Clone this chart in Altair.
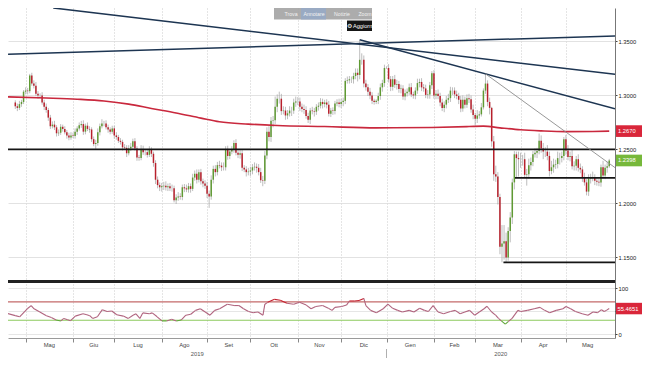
import altair as alt
import pandas as pd

FONT = "Liberation Sans Narrow, Liberation Sans, Arial"
FS = 5.8

# ---------------- daily candles (weekdays), closes + wick sizes in pips ----------------
FIRST_OPEN = 1.2935

C_APR19 = [1.2900, 1.2885, 1.2920, 1.2940, 1.3035]
U_APR19 = [20, 25, 30, 20, 15]
D_APR19 = [25, 30, 20, 25, 20]

C_MAY19 = [1.3045, 1.3040, 1.3185, 1.3110, 1.3090, 1.3015, 1.3000, 1.3000, 1.2935, 1.2895,
           1.2865, 1.2795, 1.2715, 1.2730, 1.2705, 1.2650, 1.2655, 1.2710, 1.2690, 1.2660,
           1.2630, 1.2610, 1.2630]
U_MAY19 = [30, 25, 15, 25, 30, 35, 25, 20, 30, 25, 30, 20, 25, 30, 35, 20, 30, 25, 20, 25, 20, 25, 30]
D_MAY19 = [25, 30, 20, 20, 25, 20, 30, 25, 20, 30, 25, 30, 25, 20, 25, 30, 25, 20, 25, 20, 30, 25, 20]

C_JUN19 = [1.2625, 1.2665, 1.2695, 1.2725, 1.2735, 1.2665, 1.2720, 1.2690, 1.2685, 1.2595,
           1.2550, 1.2560, 1.2660, 1.2715, 1.2740, 1.2740, 1.2705, 1.2685, 1.2665, 1.2695]
U_JUN19 = [25, 30, 20, 25, 30, 35, 20, 30, 25, 20, 25, 30, 35, 25, 40, 25, 30, 25, 20, 25]
D_JUN19 = [20, 25, 30, 20, 25, 30, 25, 20, 30, 25, 20, 45, 25, 30, 20, 25, 20, 30, 25, 20]

C_JUL19 = [1.2630, 1.2615, 1.2580, 1.2570, 1.2520, 1.2515, 1.2465, 1.2510, 1.2525, 1.2575,
           1.2510, 1.2425, 1.2420, 1.2500, 1.2475, 1.2475, 1.2450, 1.2495, 1.2460, 1.2375,
           1.2220, 1.2170, 1.2150]
U_JUL19 = [25, 30, 20, 25, 20, 30, 25, 30, 35, 25, 30, 20, 25, 40, 35, 25, 30, 35, 25, 20, 25, 30, 25]
D_JUL19 = [30, 25, 20, 25, 30, 20, 35, 20, 25, 30, 20, 30, 25, 20, 25, 30, 25, 20, 30, 35, 40, 30, 35]

C_AUG19 = [1.2160, 1.2165, 1.2150, 1.2160, 1.2140, 1.2140, 1.2030, 1.2055, 1.2065, 1.2060,
           1.2150, 1.2140, 1.2130, 1.2160, 1.2135, 1.2240, 1.2275, 1.2220, 1.2290, 1.2205,
           1.2185, 1.2165]
U_AUG19 = [30, 35, 40, 25, 30, 35, 25, 30, 40, 30, 25, 30, 35, 30, 25, 35, 30, 40, 25, 30, 25, 30]
D_AUG19 = [40, 35, 30, 35, 25, 30, 20, 35, 30, 25, 30, 35, 25, 30, 35, 20, 30, 35, 25, 30, 35, 30]

C_SEP19 = [1.2090, 1.2065, 1.2220, 1.2320, 1.2290, 1.2355, 1.2350, 1.2335, 1.2335, 1.2505,
           1.2440, 1.2480, 1.2500, 1.2560, 1.2470, 1.2450, 1.2465, 1.2330, 1.2315, 1.2290,
           1.2295]
U_SEP19 = [35, 30, 40, 30, 35, 30, 40, 30, 45, 25, 30, 25, 30, 25, 35, 30, 35, 30, 25, 30, 35]
D_SEP19 = [40, 106, 30, 35, 40, 30, 25, 35, 30, 30, 35, 30, 25, 30, 25, 30, 35, 30, 25, 40, 30]

C_OCT19 = [1.2305, 1.2335, 1.2340, 1.2330, 1.2290, 1.2215, 1.2210, 1.2445, 1.2665, 1.2615,
           1.2765, 1.2770, 1.2895, 1.2970, 1.2970, 1.2855, 1.2860, 1.2815, 1.2835, 1.2860,
           1.2860, 1.2935, 1.2945]
U_OCT19 = [35, 30, 40, 30, 35, 40, 40, 40, 40, 50, 35, 40, 95, 40, 65, 45, 40, 35, 30, 40, 35, 35, 45]
D_OCT19 = [40, 35, 30, 45, 30, 25, 50, 30, 35, 40, 45, 60, 35, 50, 45, 35, 30, 40, 35, 30, 50, 30, 40]

C_NOV19 = [1.2945, 1.2895, 1.2875, 1.2865, 1.2810, 1.2775, 1.2860, 1.2855, 1.2850, 1.2895,
           1.2905, 1.2940, 1.2920, 1.2935, 1.2915, 1.2830, 1.2860, 1.2855, 1.2925, 1.2935,
           1.2920]
U_NOV19 = [40, 35, 30, 40, 35, 30, 25, 35, 30, 25, 30, 35, 30, 25, 30, 35, 25, 30, 25, 30, 35]
D_NOV19 = [35, 40, 30, 35, 25, 30, 40, 30, 45, 30, 35, 25, 40, 30, 35, 25, 30, 35, 30, 25, 30]

C_DEC19 = [1.2940, 1.2950, 1.3135, 1.3140, 1.3150, 1.3150, 1.3180, 1.3210, 1.3190, 1.3330,
           1.3330, 1.3110, 1.3075, 1.3035, 1.3000, 1.2950, 1.2940, 1.2950, 1.2995, 1.3075,
           1.3115, 1.3255]
U_DEC19 = [30, 30, 25, 35, 30, 25, 30, 40, 40, 185, 60, 40, 35, 30, 35, 30, 20, 15, 30, 35, 30, 30]
D_DEC19 = [35, 40, 30, 25, 30, 35, 40, 30, 60, 40, 45, 35, 30, 40, 35, 30, 25, 20, 30, 35, 40, 35]

C_JAN20 = [1.3255, 1.3150, 1.3080, 1.3150, 1.3100, 1.3105, 1.3060, 1.3065, 1.2990, 1.3020,
           1.3035, 1.3075, 1.3010, 1.3000, 1.3045, 1.3115, 1.3125, 1.3075, 1.3065, 1.3005,
           1.3010, 1.3095, 1.3205]
U_JAN20 = [15, 35, 30, 30, 40, 40, 30, 35, 30, 35, 30, 35, 40, 25, 30, 40, 30, 35, 30, 35, 40, 30, 20]
D_JAN20 = [10, 30, 40, 35, 30, 45, 35, 40, 30, 35, 30, 30, 25, 30, 35, 30, 40, 35, 30, 30, 35, 40, 35]

C_FEB20 = [1.3000, 1.3015, 1.2995, 1.2935, 1.2885, 1.2915, 1.2960, 1.2975, 1.3045, 1.3045,
           1.3010, 1.2995, 1.2960, 1.2880, 1.2960, 1.2915, 1.2975, 1.2965, 1.2870, 1.2820]
U_FEB20 = [30, 35, 40, 30, 35, 30, 35, 40, 35, 30, 30, 35, 30, 35, 40, 30, 35, 40, 35, 45]
D_FEB20 = [30, 35, 30, 35, 30, 40, 35, 30, 35, 40, 35, 30, 40, 35, 30, 35, 30, 35, 30, 40]

C_MAR20 = [1.2785, 1.2815, 1.2825, 1.2890, 1.3045, 1.3110, 1.2940, 1.2885, 1.2575, 1.2270,
           1.2250, 1.2060, 1.1600, 1.1630, 1.1650, 1.1500, 1.1745, 1.1870, 1.2195, 1.2455,
           1.2420, 1.2410]
U_MAR20 = [20, 50, 30, 40, 20, 90, 30, 40, 10, 50, 80, 40, 30, 170, 150, 80, 35, 50, 35, 30, 25, 60]
D_MAR20 = [60, 40, 30, 20, 20, 30, 40, 60, 50, 60, 50, 70, 70, 145, 150, 45, 30, 105, 60, 65, 180, 160]

C_APR20 = [1.2410, 1.2410, 1.2265, 1.2270, 1.2355, 1.2385, 1.2455, 1.2470, 1.2485, 1.2580,
           1.2510, 1.2480, 1.2480, 1.2440, 1.2300, 1.2335, 1.2360, 1.2365, 1.2420, 1.2420,
           1.2440, 1.2595]
U_APR20 = [60, 40, 60, 50, 60, 40, 30, 40, 30, 68, 50, 50, 40, 60, 40, 60, 55, 40, 60, 50, 40, 20]
D_APR20 = [80, 60, 30, 100, 40, 50, 40, 30, 50, 30, 40, 70, 50, 40, 50, 30, 50, 40, 40, 60, 40, 40]

C_MAY20 = [1.2490, 1.2430, 1.2440, 1.2345, 1.2350, 1.2410, 1.2330, 1.2315, 1.2245, 1.2195,
           1.2110, 1.2230, 1.2245, 1.2235, 1.2210, 1.2200, 1.2195, 1.2335, 1.2260, 1.2330,
           1.2345]
U_MAY20 = [40, 50, 40, 60, 40, 30, 45, 40, 30, 40, 30, 40, 30, 50, 35, 30, 30, 25, 60, 30, 40]
D_MAY20 = [40, 30, 40, 30, 40, 45, 35, 35, 45, 30, 35, 40, 45, 30, 40, 35, 35, 40, 30, 35, 45]

C_JUN20 = [1.2398]
U_JUN20 = [15]
D_JUN20 = [15]

BLOCKS = [(C_APR19, U_APR19, D_APR19), (C_MAY19, U_MAY19, D_MAY19), (C_JUN19, U_JUN19, D_JUN19),
          (C_JUL19, U_JUL19, D_JUL19), (C_AUG19, U_AUG19, D_AUG19), (C_SEP19, U_SEP19, D_SEP19),
          (C_OCT19, U_OCT19, D_OCT19), (C_NOV19, U_NOV19, D_NOV19), (C_DEC19, U_DEC19, D_DEC19),
          (C_JAN20, U_JAN20, D_JAN20), (C_FEB20, U_FEB20, D_FEB20), (C_MAR20, U_MAR20, D_MAR20),
          (C_APR20, U_APR20, D_APR20), (C_MAY20, U_MAY20, D_MAY20), (C_JUN20, U_JUN20, D_JUN20)]

# 200-day moving average (candle index, price)
MA_I = [-9, 10, 25, 38, 50, 61, 73, 85, 94, 108, 122, 145, 170, 197, 215, 222, 230, 240, 250, 262, 275, 283]
MA_V = [1.2987, 1.2976, 1.2965, 1.2949, 1.2920, 1.2880, 1.2838, 1.2790, 1.2756, 1.2735, 1.2722,
        1.2712, 1.2700, 1.2704, 1.2712, 1.2716, 1.2700, 1.2682, 1.2672, 1.2665, 1.2667, 1.2670]

# RSI (candle index, value)
RSI_I = [-9, -5, -2.9, 0.8, 2.7, 4.1, 6.9, 10.1, 12.5, 14.8, 17.1,
         18.5, 20.4, 21.8, 24.1, 27.8, 29.7, 31.1, 32.5, 34.8, 37.2,
         39.5, 41.8, 44.2, 47.4, 49.8, 52.1, 53.5, 55.4, 56.8, 60,
         61.4, 63.8, 66.1, 68.4, 70.8, 73.1, 75.4, 77.7, 80.1, 82.4,
         84.7, 87.1, 89.4, 91.7, 94.1, 97.8, 101.1, 103.4, 105.7, 108.1,
         110.4, 112.7, 115.1, 116, 117.4, 120.7, 123.5, 126.7, 130, 132.8,
         136.1, 138.4, 140.7, 144, 146.8, 148.6, 150, 153.3, 155.6, 157,
         159.4, 161.7, 164, 165, 167.3, 170.1, 173.4, 175.7, 178, 180.4,
         182.7, 186, 188.3, 191.1, 193.4, 195.3, 197.6, 200, 202.7, 206,
         208.3, 210.7, 213, 215.3, 217.7, 220, 222.3, 223.7, 226, 227.9,
         229.3, 230.7, 232.6, 234, 235.9, 238.7, 240.1, 243.3, 246.6, 249.4,
         251.7, 254.1, 257.3, 260.6, 262, 264.3, 266.6, 269.9, 272.7, 275.1,
         277.4, 279.2, 280.6, 281.8, 283]
RSI_V = [45, 40, 37.5, 55, 62, 55, 48, 40, 36, 30.5, 28.5,
         34, 31, 29, 39, 44, 42, 40, 34, 37.5, 53,
         49, 50, 42, 39, 34, 41, 44, 34, 46, 44,
         46, 37.5, 28.5, 28.5, 32, 28.5, 30.5, 41, 43, 51.5,
         55, 48, 41, 51.5, 55, 65, 62, 62, 55, 49,
         46.5, 48, 41, 65, 69, 75.5, 73.5, 67, 65, 69,
         63, 55, 60, 62, 56, 51.5, 58, 60, 63, 72,
         72, 73, 77.5, 62, 51.5, 46.5, 55, 65, 56, 51.5,
         48, 51.5, 48, 56, 51.5, 49, 62, 48, 44, 49,
         51.5, 44, 48, 51.5, 41, 48, 55, 60.5, 48, 41,
         34, 28.5, 21.5, 27, 34, 51.5, 49, 51.5, 55, 58,
         51.5, 46.5, 51.5, 55, 60, 55, 49, 44, 41, 48,
         46.5, 53, 49, 52, 55.4651]

# drawn studies: trend lines (index, price) and horizontal levels
TREND_I0 = [-8.5, 13.4, 162, 223]
TREND_P0 = [1.3381, 1.3810, 1.3515, 1.3200]
TREND_I1 = [285.8, 285.8, 285.8, 285.8]
TREND_P1 = [1.3551, 1.3196, 1.2876, 1.2332]
TREND_KIND = ["dark", "dark", "dark", "thin"]

HL_P = [1.2500, 1.2237, 1.1455]
HL_I0 = [-8.6, 237.3, 231.7]
HL_I1 = [285.8, 285.8, 285.8]

MONTH_STARTS = [0, 23, 43, 66, 88, 109, 132, 153, 175, 198, 218, 240, 262, 283]
MONTH_LABELS = ["Mag", "Giu", "Lug", "Ago", "Set", "Ott", "Nov", "Dic", "Gen", "Feb", "Mar", "Apr", "Mag"]
YEAR_LABELS = ["2019", "2020"]
YEAR_START = 175
PRICE_TICKS = [1.15, 1.20, 1.25, 1.30, 1.35]
LAST_PRICE = 1.2398
LAST_MA = 1.2670
LAST_RSI = 55.4651
TOOLBAR = ["Trova", "Annotare", "Notizie", "Zoom"]

# ---------------- build tables ----------------
closes, ups, dns = [], [], []
for c, u, d in BLOCKS:
    closes += c
    ups += u
    dns += d
idx = list(range(-5, -5 + len(closes)))
opens = [FIRST_OPEN] + closes[:-1]
highs = [max(o, c) + u / 10000 for o, c, u in zip(opens, closes, ups)]
lows = [min(o, c) - d / 10000 for o, c, d in zip(opens, closes, dns)]
candles = pd.DataFrame(dict(i=idx, o=opens, c=closes, h=highs, l=lows))
candles["x0"] = candles["i"] - 0.36
candles["x1"] = candles["i"] + 0.36

ma = pd.DataFrame(dict(i=MA_I, p=MA_V))
trend = pd.DataFrame(dict(i=TREND_I0, p=TREND_P0, i2=TREND_I1, p2=TREND_P1, k=TREND_KIND))
hl = pd.DataFrame(dict(i=HL_I0, i2=HL_I1, p=HL_P))
sep = pd.DataFrame(dict(p=[1.1278]))

GREEN = "#5f9a33"
RED = "#b8202c"
MA_RED = "#c9283d"
NAVY = "#1d3552"

tags = pd.DataFrame(dict(p=[LAST_MA, LAST_PRICE], txt=[f"{LAST_MA:.4f}", f"{LAST_PRICE:.4f}"],
                         col=["#d9263a", "#76b83a"]))
tags["lo"] = tags["p"] - 0.0054
tags["hi"] = tags["p"] + 0.0054

seg = pd.DataFrame(dict(i=RSI_I[:-1], v=RSI_V[:-1], i2=RSI_I[1:], v2=RSI_V[1:]))
def seg_col(a, b):
    m = (a + b) / 2
    if m > 70:
        return "#c4202e"
    if m < 30:
        return "#5fa638"
    return "#b0647e"
seg["col"] = [seg_col(a, b) for a, b in zip(seg["v"], seg["v2"])]

levels = pd.DataFrame(dict(v=[70, 30], col=["#c46a6a", "#8cca5e"]))
rtag = pd.DataFrame(dict(v=[LAST_RSI], txt=[f"{LAST_RSI:.4f}"], lo=[LAST_RSI - 12.5], hi=[LAST_RSI + 12.5]))
months = pd.DataFrame(dict(m=[(a + b) / 2 for a, b in zip(MONTH_STARTS[:-1], MONTH_STARTS[1:])],
                           lab=MONTH_LABELS))
years = pd.DataFrame(dict(m=[(-8.5 + YEAR_START) / 2, (YEAR_START + 285.8) / 2], lab=YEAR_LABELS))
ytick = pd.DataFrame(dict(i=[YEAR_START]))
ONE = pd.DataFrame(dict(k=[0]))

# ---------------- scales & axes (one plot area: price on top, RSI strip at bottom) ----------------
W, H = 607, 330
PAD_R = 634 - W
XS = alt.Scale(domain=[-8.54, 285.8], nice=False, zero=False)
YS = alt.Scale(domain=[1.07545, 1.38097], nice=False, zero=False)
RS = alt.Scale(domain=[-8.7, 710.4], nice=False, zero=False)

X_AX = alt.Axis(orient="bottom", values=MONTH_STARTS[:-1], grid=True, gridDash=[1, 2], gridColor="#bdbdbd",
                gridWidth=0.8, labels=False, ticks=True, tickSize=4, tickColor="#888888",
                domain=True, domainColor="#9a9a9a", title=None)
Y_PRICE = alt.Axis(orient="right", values=PRICE_TICKS, format=".4f", grid=True, gridColor="#dadada",
                   gridWidth=0.8, domainColor="#777777", tickColor="#444444", tickSize=2,
                   labelFontSize=FS, labelColor="#222222", labelFont=FONT, labelPadding=1, title=None)
Y_RSI = alt.Axis(orient="right", values=[0, 50, 100], labelExpr="datum.value == 50 ? '' : datum.label",
                 grid=True, gridColor="#e0e0e0", gridWidth=0.8, domain=False, tickColor="#444444",
                 tickSize=2, labelFontSize=FS, labelColor="#222222", labelFont=FONT, labelPadding=1,
                 title=None)

def px(f):
    return alt.X(f, scale=XS, axis=X_AX)
def py(f):
    return alt.Y(f, scale=YS, axis=Y_PRICE)
def ry(f):
    return alt.Y(f, scale=RS, axis=Y_RSI)

# ---------------- price layers ----------------
wicks = alt.Chart(candles).mark_rule(color="#a0a0a0", strokeWidth=0.7, clip=True).encode(
    x=px("i:Q"), y=py("l:Q"), y2="h:Q")
bodies = alt.Chart(candles).mark_bar(clip=True).encode(
    x=px("x0:Q"), x2="x1:Q", y=py("o:Q"), y2="c:Q",
    color=alt.condition("datum.c >= datum.o", alt.value(GREEN), alt.value(RED)))
ma_line = alt.Chart(ma).mark_line(color=MA_RED, strokeWidth=1.6, interpolate="monotone", clip=True).encode(
    x=px("i:Q"), y=py("p:Q"))
trend_dark = alt.Chart(trend).transform_filter("datum.k == 'dark'").mark_rule(
    color=NAVY, strokeWidth=1.5, clip=True).encode(x=px("i:Q"), x2="i2:Q", y=py("p:Q"), y2="p2:Q")
trend_thin = alt.Chart(trend).transform_filter("datum.k == 'thin'").mark_rule(
    color="#8c8c8c", strokeWidth=0.9, clip=True).encode(x=px("i:Q"), x2="i2:Q", y=py("p:Q"), y2="p2:Q")
hlines = alt.Chart(hl).mark_rule(color="#151515", strokeWidth=1.8, clip=True).encode(
    x=px("i:Q"), x2="i2:Q", y=py("p:Q"))
separator = alt.Chart(sep).mark_rule(color="#222222", strokeWidth=3).encode(y=py("p:Q"))
tag_box = alt.Chart(tags).mark_rect().encode(
    x=alt.value(W + 1), x2=alt.value(W + PAD_R), y=py("lo:Q"), y2="hi:Q", color=alt.Color("col:N", scale=None))
tag_txt = alt.Chart(tags).mark_text(align="left", baseline="middle", color="white", fontSize=FS,
                                   font=FONT).encode(x=alt.value(W + 3), y=py("p:Q"), text="txt:N")

price = alt.layer(wicks, bodies, ma_line, hlines, trend_dark, trend_thin, separator, tag_box, tag_txt)

# ---------------- RSI layers ----------------
lvl = alt.Chart(levels).mark_rule(strokeWidth=1.2).encode(
    x=alt.value(0), x2=alt.value(W), y=ry("v:Q"), color=alt.Color("col:N", scale=None))
rsi_line = alt.Chart(seg).mark_rule(strokeWidth=1.1, clip=True).encode(
    x=px("i:Q"), x2="i2:Q", y=ry("v:Q"), y2="v2:Q", color=alt.Color("col:N", scale=None))
rtag_box = alt.Chart(rtag).mark_rect(color="#d9263a").encode(
    x=alt.value(W + 1), x2=alt.value(W + PAD_R), y=ry("lo:Q"), y2="hi:Q")
rtag_txt = alt.Chart(rtag).mark_text(align="left", baseline="middle", color="white", fontSize=FS,
                                    font=FONT).encode(x=alt.value(W + 2.5), y=ry("v:Q"), text="txt:N")

rsi = alt.layer(lvl, rsi_line, rtag_box, rtag_txt)

# ---------------- x labels and overlays ----------------
mlabels = alt.Chart(months).mark_text(fontSize=FS, color="#444444", font=FONT, baseline="middle").encode(
    x=px("m:Q"), y=alt.value(H + 6.5), text="lab:N")
ylabels = alt.Chart(years).mark_text(fontSize=FS, color="#555555", font=FONT, baseline="middle").encode(
    x=px("m:Q"), y=alt.value(H + 16), text="lab:N")
yt = alt.Chart(ytick).mark_rule(color="#9a9a9a", strokeWidth=0.8).encode(
    x=px("i:Q"), y=alt.value(H + 11), y2=alt.value(H + 20))

def orect(x, x2, y, y2, color, opacity=1.0):
    return alt.Chart(ONE).mark_rect(color=color, opacity=opacity).encode(
        x=alt.value(x), x2=alt.value(x2), y=alt.value(y), y2=alt.value(y2))
def otext(t, x, y, size, color):
    return alt.Chart(ONE).mark_text(text=t, fontSize=size, color=color, font=FONT,
                                    baseline="middle", align="center").encode(x=alt.value(x), y=alt.value(y))

overlay = [orect(266, 364, 0, 11.5, "#a3a3a3", 0.9), orect(293, 318, 0, 11.5, "#98aac4", 0.95)]
for t, x in zip(TOOLBAR, [283, 306, 334, 357]):
    overlay.append(otext(t, x, 6, 5.2, "#f2f2f2"))
overlay.append(orect(339, 364, 12.5, 23, "#151515"))
overlay.append(otext("\u2699 Aggiorn", 351.5, 17.8, 5.6, "#ffffff"))

chart = alt.layer(
    price, rsi, mlabels, ylabels, yt, *overlay
).resolve_scale(y="independent", color="independent").properties(
    width=W, height=H,
    autosize=alt.AutoSizeParams(type="none"),
    padding={"left": 0, "top": 0, "right": PAD_R, "bottom": 20},
    background="white",
).configure_view(stroke=None).configure_axis(labelFont=FONT)

chart.save("out.html", embed_options={"renderer": "svg", "actions": False})
